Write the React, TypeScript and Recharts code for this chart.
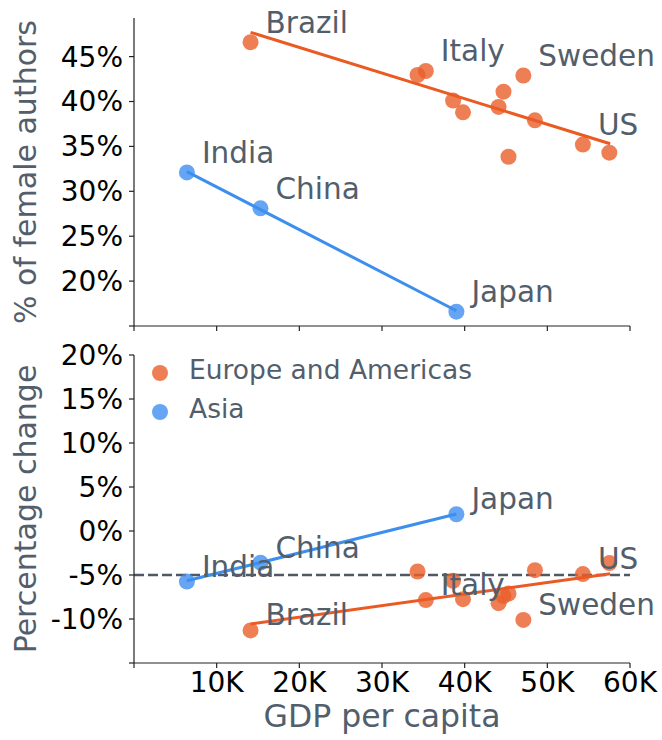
import React from "react";
import { ScatterChart, Scatter, XAxis, YAxis, ReferenceLine, Legend } from "recharts";

const font = "DejaVu Sans";
const slate = "#525e6b";
const orangeDot = "#ea5f2a";
const orangeLine = "#ea5a22";
const blueDot = "#3f8ff0";
const blueLine = "#3d8fee";

// GDP per capita in thousands of dollars
const gdpTicks = [0, 10, 20, 30, 40, 50, 60];
const femaleTicks = [15, 20, 25, 30, 35, 40, 45];
const changeTicks = [-15, -10, -5, 0, 5, 10, 15, 20];

const euroNames = ["Brazil", "", "Italy", "", "", "", "", "", "Sweden", "", "US", ""];
const euroGdp = [14.1, 34.3, 35.3, 38.6, 39.8, 44.1, 44.7, 45.3, 47.1, 48.5, 54.3, 57.5];
const euroFemale = [46.6, 42.95, 43.4, 40.1, 38.8, 39.4, 41.1, 33.85, 42.9, 37.9, 35.2, 34.3];
const euroChange = [-11.3, -4.6, -7.85, -5.65, -7.75, -8.2, -7.4, -7.1, -10.1, -4.45, -4.9, -3.65];

const asiaNames = ["India", "China", "Japan"];
const asiaGdp = [6.4, 15.3, 39.0];
const asiaFemale = [32.1, 28.1, 16.6];
const asiaChange = [-5.75, -3.6, 1.9];

// fitted trend lines (end points)
const euroFitGdp = [14.1, 57.6];
const euroFitFemale = [47.7, 35.3];
const euroFitChange = [-10.57, -4.85];
const asiaFitGdp = [6.4, 39.0];
const asiaFitFemale = [32.2, 16.7];
const asiaFitChange = [-5.65, 1.93];

const legendItems = [
  { label: "Europe and Americas", color: orangeDot },
  { label: "Asia", color: blueDot },
];

const rows = (xs: number[], ys: number[], names?: string[]) =>
  xs.map((g, i) => ({ gdp: g, v: ys[i], name: names ? names[i] : "" }));

const dot = (color: string) => (p: any) => (
  <circle cx={p.cx} cy={p.cy} r={8} fill={color} fillOpacity={0.8} />
);

const nothing = () => <g />;

const labelShape = (dy: number) => (p: any) =>
  p.payload && p.payload.name ? (
    <text x={p.cx + 15} y={p.cy + dy} fill={slate} fontSize={29.5} fontFamily={font}>
      {p.payload.name}
    </text>
  ) : (
    <g />
  );

const axisStyle = { stroke: "#222", strokeWidth: 1.2 };
const tickStyle = { fill: "#000", fontSize: 28, fontFamily: font };

function LegendBox() {
  return (
    <div style={{ fontFamily: font, fontSize: 26.5, color: slate }}>
      {legendItems.map((it) => (
        <div key={it.label} style={{ display: "flex", alignItems: "center", height: 39 }}>
          <svg width={16} height={16}>
            <circle cx={8} cy={8} r={8} fill={it.color} fillOpacity={0.8} />
          </svg>
          <span style={{ marginLeft: 21, position: "relative", top: -3, whiteSpace: "nowrap" }}>
            {it.label}
          </span>
        </div>
      ))}
    </div>
  );
}

function Panel({
  top,
  height,
  margin,
  xHeight,
  showX,
  yDomain,
  yTicks,
  yHidden,
  yLabel,
  euro,
  asia,
  euroFit,
  asiaFit,
  labelDy,
  refY,
  legend,
}: any) {
  return (
    <div style={{ position: "absolute", left: 0, top }}>
      <ScatterChart width={662} height={height} margin={margin}>
        <XAxis
          type="number"
          dataKey="gdp"
          domain={[0, 60]}
          ticks={gdpTicks}
          interval={0}
          tickSize={5}
          tickMargin={4}
          height={xHeight}
          axisLine={axisStyle}
          tickLine={axisStyle}
          tick={tickStyle}
          tickFormatter={(v: number) => (showX && v !== 0 ? `${v}K` : "")}
          label={
            showX
              ? {
                  value: "GDP per capita",
                  position: "insideBottom",
                  offset: 13,
                  style: { fill: slate, fontSize: 31.5, fontFamily: font },
                }
              : undefined
          }
        />
        <YAxis
          type="number"
          dataKey="v"
          domain={yDomain}
          ticks={yTicks}
          interval={0}
          width={134}
          tickSize={5}
          tickMargin={6}
          axisLine={axisStyle}
          tickLine={axisStyle}
          tick={tickStyle}
          tickFormatter={(v: number) => (v === yHidden ? "" : `${v}%`)}
          label={{
            value: yLabel,
            angle: -90,
            position: "insideLeft",
            offset: 25,
            style: { textAnchor: "middle", fill: slate, fontSize: 30, fontFamily: font },
          }}
        />
        {refY !== undefined && (
          <ReferenceLine y={refY} stroke="#4f5966" strokeWidth={2.5} strokeDasharray="10 4" />
        )}
        <Scatter data={euro} shape={dot(orangeDot)} isAnimationActive={false} />
        <Scatter data={asia} shape={dot(blueDot)} isAnimationActive={false} />
        <Scatter
          data={euroFit}
          line={{ stroke: orangeLine, strokeWidth: 3 }}
          shape={nothing}
          isAnimationActive={false}
        />
        <Scatter
          data={asiaFit}
          line={{ stroke: blueLine, strokeWidth: 3 }}
          shape={nothing}
          isAnimationActive={false}
        />
        <Scatter data={euro} shape={labelShape(labelDy)} isAnimationActive={false} />
        <Scatter data={asia} shape={labelShape(labelDy)} isAnimationActive={false} />
        {legend && (
          <Legend
            layout="vertical"
            align="center"
            verticalAlign="middle"
            wrapperStyle={{ left: 152, top: 13, width: 340, height: 80 }}
            content={() => <LegendBox />}
          />
        )}
      </ScatterChart>
    </div>
  );
}

export default function App() {
  return (
    <div
      style={{
        position: "absolute",
        left: 0,
        top: 0,
        width: 662,
        height: 740,
        background: "#fff",
      }}
    >
      <Panel
        top={0}
        height={340}
        margin={{ top: 18, right: 32, bottom: 0, left: 0 }}
        xHeight={14}
        showX={false}
        yDomain={[15, 49.3]}
        yTicks={femaleTicks}
        yHidden={15}
        yLabel="% of female authors"
        euro={rows(euroGdp, euroFemale, euroNames)}
        asia={rows(asiaGdp, asiaFemale, asiaNames)}
        euroFit={rows(euroFitGdp, euroFitFemale)}
        asiaFit={rows(asiaFitGdp, asiaFitFemale)}
        labelDy={-9.5}
      />
      <Panel
        top={340}
        height={400}
        margin={{ top: 15, right: 32, bottom: 0, left: 0 }}
        xHeight={77}
        showX={true}
        yDomain={[-15, 20]}
        yTicks={changeTicks}
        yHidden={-15}
        yLabel="Percentage change"
        euro={rows(euroGdp, euroChange, euroNames)}
        asia={rows(asiaGdp, asiaChange, asiaNames)}
        euroFit={rows(euroFitGdp, euroFitChange)}
        asiaFit={rows(asiaFitGdp, asiaFitChange)}
        labelDy={-5}
        refY={-5}
        legend={true}
      />
    </div>
  );
}
